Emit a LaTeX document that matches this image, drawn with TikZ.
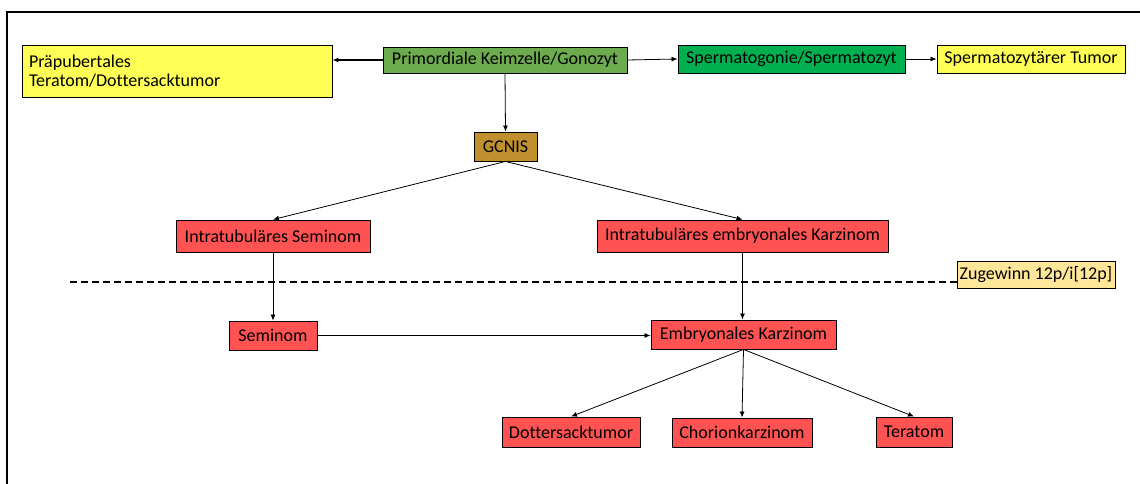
\documentclass[tikz,border=0pt]{standalone}
\usepackage{fontspec}
\setmainfont{Carlito}[Ligatures=NoCommon]
\usetikzlibrary{arrows.meta}
\definecolor{cyel}{HTML}{FFFF55}
\definecolor{cgreenA}{HTML}{6CAB4E}
\definecolor{cgreenB}{HTML}{00B050}
\definecolor{cgold}{HTML}{C0902E}
\definecolor{cred}{HTML}{FF5353}
\definecolor{cpeach}{HTML}{FFE699}
\tikzset{
  box/.style={draw=black, line width=0.9pt, inner sep=0pt, rectangle, font=\fontsize{18}{21}\selectfont},
  conn/.style={draw=black, line width=0.8pt, -{Latex[length=6pt,width=5pt]}},
}
\begin{document}
\begin{tikzpicture}[x=1pt,y=-1pt]
\useasboundingbox (0,0) rectangle (1140,484);
\fill[white] (0,0) rectangle (1140,484);
% frame
\draw[line width=1.6pt] (7,490) -- (7,12) -- (1150,12);

\node[box, fill=cyel, minimum width=310, minimum height=52, text width=296, align=left] (prae) at (177,71) {Präpubertales\\[-2pt]Teratom/Dottersacktumor};
\node[box, fill=cgreenA, minimum width=244, minimum height=26] (prim) at (505,60) {Primordiale Keimzelle/Gonozyt};
\node[box, fill=cgreenB, minimum width=227, minimum height=28] (sperm) at (791.5,59) {Spermatogonie/Spermatozyt};
\node[box, fill=cyel, minimum width=188, minimum height=28] (szt) at (1031,59) {Spermatozytärer Tumor};
\node[box, fill=cgold, minimum width=63, minimum height=29] (gcnis) at (505.5,146.5) {GCNIS};
\node[box, fill=cred, minimum width=194, minimum height=32] (isem) at (273,236) {Intratubuläres Seminom};
\node[box, fill=cred, minimum width=291, minimum height=32] (iek) at (742.5,236) {Intratubuläres embryonales Karzinom};
\node[box, fill=cpeach, minimum width=158, minimum height=27] (zug) at (1036,274.5) {Zugewinn 12p/i[12p]};
\node[box, fill=cred, minimum width=88, minimum height=29] (sem) at (273,335.5) {Seminom};
\node[box, fill=cred, minimum width=185, minimum height=29] (ek) at (743.5,334.5) {Embryonales Karzinom};
\node[box, fill=cred, minimum width=138, minimum height=30] (dst) at (571,432) {Dottersacktumor};
\node[box, fill=cred, minimum width=140, minimum height=29] (chk) at (742,432.5) {Chorionkarzinom};
\node[box, fill=cred, minimum width=76, minimum height=30] (ter) at (914,432) {Teratom};

\coordinate (dashstart) at (70,282);
\draw[line width=1.8pt, dash pattern=on 7pt off 4pt] (dashstart) -- (zug.west |- dashstart);

\draw[conn, line width=1.6pt] (prim.west) -- (prim.west -| prae.east);
\draw[conn] (prim.east) -- (sperm.west);
\draw[conn] (sperm.east) -- (szt.west);
\draw[conn] (prim.south) -- (gcnis.north);
\draw[conn] (gcnis.south) -- (isem.north);
\draw[conn] (gcnis.south) -- (iek.north);
\draw[conn] (isem.south) -- (sem.north);
\draw[conn] (iek.south) -- (iek.south |- ek.north);
\draw[conn] (sem.east) -- (sem.east -| ek.west);
\draw[conn] (ek.south) -- (dst.north);
\draw[conn] (ek.south) -- (chk.north);
\draw[conn] (ek.south) -- (ter.north);
\end{tikzpicture}
\end{document}
